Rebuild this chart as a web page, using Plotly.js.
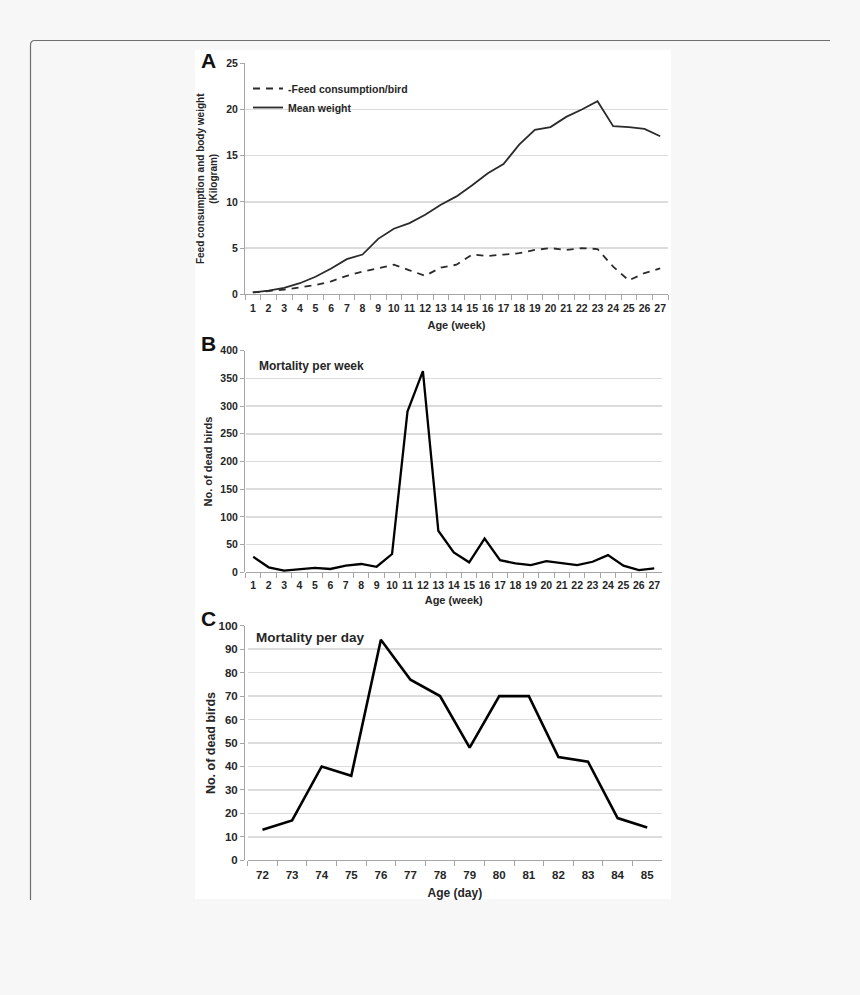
<!DOCTYPE html>
<html>
<head>
<meta charset="utf-8">
<script src="https://cdn.plot.ly/plotly-3.0.1.min.js"></script>
<style>
html,body{margin:0;padding:0;background:#f7f7f7;}
#chart{width:860px;height:995px;}
</style>
</head>
<body>
<div id="chart"></div>
<script>
// ---- Data ----
const weeks = ['1','2','3','4','5','6','7','8','9','10','11','12','13','14','15','16','17','18','19','20','21','22','23','24','25','26','27'];
const feedPerBird = [0.2,0.35,0.5,0.75,1.0,1.4,2.0,2.45,2.8,3.2,2.6,2.0,2.9,3.2,4.3,4.15,4.3,4.45,4.8,5.0,4.8,5.0,4.9,3.0,1.5,2.3,2.8];
const meanWeight = [0.2,0.4,0.7,1.2,1.9,2.8,3.8,4.3,6.0,7.1,7.7,8.6,9.7,10.6,11.8,13.1,14.1,16.2,17.8,18.1,19.2,20.0,20.9,18.2,18.1,17.9,17.1];
const deadPerWeek = [28,9,3,5,8,6,12,15,10,33,290,363,75,36,18,61,22,16,13,20,17,13,19,31,12,4,7];
const days = ['72','73','74','75','76','77','78','79','80','81','82','83','84','85'];
const deadPerDay = [13,17,40,36,94,77,70,48,70,70,44,42,18,14];

const W = 860, H = 995;
const px = x => x / W;
const py = y => 1 - y / H;

const FONT = 'Liberation Sans, Arial, sans-serif';
const tickFont = {family: FONT, size: 10.5, color: '#262626', weight: 'bold'};
const gridC = '#dcdcdc';

function yAxis(domainTop, domainBot, range, dtick, titleText, titleSize, tfont, standoff) {
  return {
    domain: [py(domainBot), py(domainTop)],
    range: range, dtick: dtick, tick0: 0,
    showgrid: true, gridcolor: gridC, gridwidth: 1.5,
    showline: true, linecolor: '#a6a6a6', linewidth: 1,
    ticks: 'outside', ticklen: 4, tickcolor: '#a6a6a6',
    tickfont: tfont || tickFont, zeroline: false, fixedrange: true,
    title: {text: titleText, font: {family: FONT, size: titleSize, color: '#262626', weight: 'bold'}, standoff: standoff}
  };
}
function xAxis(left, right, anchor, n, titleText, tfont, titleSize, lblOff, titleOff) {
  return {
    domain: [px(left), px(right)], anchor: anchor,
    type: 'category',
    range: [-0.5, n - 0.5],
    tickson: 'boundaries',
    tickangle: 0,
    ticklabelstandoff: lblOff,
    showgrid: false,
    showline: true, linecolor: '#a6a6a6', linewidth: 1,
    ticks: 'outside', ticklen: 5, tickcolor: '#a6a6a6',
    tickfont: tfont || tickFont, fixedrange: true,
    title: {text: titleText, font: {family: FONT, size: titleSize || 11, color: '#262626', weight: 'bold'}, standoff: titleOff}
  };
}

const traces = [
  {x: weeks, y: feedPerBird, xaxis: 'x', yaxis: 'y', type: 'scatter', mode: 'lines',
   name: '-Feed consumption/bird', line: {color: '#2b2b2b', width: 1.8, dash: '7px,6px'}},
  {x: weeks, y: meanWeight, xaxis: 'x', yaxis: 'y', type: 'scatter', mode: 'lines',
   name: 'Mean weight', line: {color: '#2b2b2b', width: 1.8}},
  {x: weeks, y: deadPerWeek, xaxis: 'x2', yaxis: 'y2', type: 'scatter', mode: 'lines',
   name: 'Mortality per week', showlegend: false, line: {color: '#000', width: 2.3}},
  {x: days, y: deadPerDay, xaxis: 'x3', yaxis: 'y3', type: 'scatter', mode: 'lines',
   name: 'Mortality per day', showlegend: false, line: {color: '#000', width: 2.6}}
];

const tickFontC = {family: FONT, size: 11.5, color: '#262626', weight: 'bold'};

const layout = {
  width: W, height: H,
  margin: {l: 0, r: 0, t: 0, b: 0},
  paper_bgcolor: '#f7f7f7',
  plot_bgcolor: '#ffffff',
  showlegend: true,
  legend: {x: px(248), y: py(74), xanchor: 'left', yanchor: 'top', bgcolor: 'rgba(0,0,0,0)',
           font: {family: FONT, size: 10.5, color: '#262626', weight: 'bold'},
           itemwidth: 30, tracegroupgap: 0},
  xaxis: xAxis(245, 668, 'y', weeks.length, 'Age (week)', null, 11, 4, 8),
  yaxis: yAxis(63.3, 294.3, [0, 25], 5, 'Feed consumption and body weight<br>(Kilogram)', 10, null, 6),
  xaxis2: xAxis(245.5, 662, 'y2', weeks.length, 'Age (week)', null, 11, 3, 6),
  yaxis2: yAxis(350.7, 572.3, [0, 400], 50, 'No. of dead birds', 11, null, 5),
  xaxis3: xAxis(247.7, 662, 'y3', days.length, 'Age (day)', tickFontC, 12, 4, 8),
  yaxis3: yAxis(625.7, 860.3, [0, 100], 10, 'No. of dead birds', 12.5, tickFontC, 0),
  shapes: [
    {type: 'rect', xref: 'paper', yref: 'paper', x0: px(195), x1: px(671), y0: py(899), y1: py(50),
     fillcolor: '#ffffff', line: {width: 0}, layer: 'below'},
    {type: 'path', xref: 'paper', yref: 'paper',
     path: `M ${px(30.5)} ${py(900)} L ${px(30.5)} ${py(45)} Q ${px(30.5)} ${py(40.5)} ${px(35)} ${py(40.5)} L ${px(830)} ${py(40.5)}`,
     line: {color: '#6e6e6e', width: 1.2}, layer: 'above'}
  ],
  annotations: [
    {text: 'A', xref: 'paper', yref: 'paper', x: px(199), y: py(60), xanchor: 'left', yanchor: 'middle', showarrow: false,
     font: {family: FONT, size: 21, color: '#111', weight: 'bold'}},
    {text: 'B', xref: 'paper', yref: 'paper', x: px(199), y: py(343), xanchor: 'left', yanchor: 'middle', showarrow: false,
     font: {family: FONT, size: 21, color: '#111', weight: 'bold'}},
    {text: 'C', xref: 'paper', yref: 'paper', x: px(199), y: py(618), xanchor: 'left', yanchor: 'middle', showarrow: false,
     font: {family: FONT, size: 21, color: '#111', weight: 'bold'}},
    {text: 'Mortality per week', xref: 'paper', yref: 'paper', x: px(257), y: py(366), xanchor: 'left', yanchor: 'middle', showarrow: false,
     font: {family: FONT, size: 12, color: '#262626', weight: 'bold'}},
    {text: 'Mortality per day', xref: 'paper', yref: 'paper', x: px(254), y: py(637), xanchor: 'left', yanchor: 'middle', showarrow: false,
     font: {family: FONT, size: 13.5, color: '#262626', weight: 'bold'}}
  ]
};

Plotly.newPlot('chart', traces, layout, {staticPlot: true, displayModeBar: false});
</script>
</body>
</html>
